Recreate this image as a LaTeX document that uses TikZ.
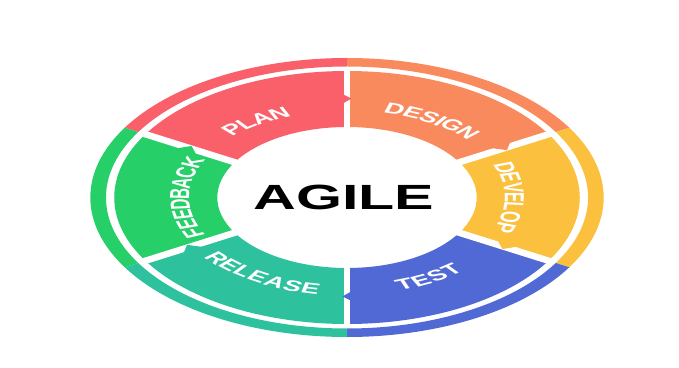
\documentclass[tikz,border=0pt]{standalone}
\usepackage{fontspec}
\setmainfont{Liberation Sans}
\definecolor{planc}{HTML}{F9606A}
\definecolor{designc}{HTML}{F98A5E}
\definecolor{developc}{HTML}{FBC03E}
\definecolor{testc}{HTML}{5169D5}
\definecolor{releasec}{HTML}{2EC19D}
\definecolor{feedbackc}{HTML}{26CF68}
\newcommand\lblfont{\bfseries\fontsize{15}{15}\selectfont}
\newcommand\lblsize{15}
% Sets a word letter by letter along a circle of the (unscaled) wheel frame.
% #1 centre angle, #2 radius, #3 1 = reads clockwise, -1 = reads anticlockwise,
% #4 comma separated letter/advance pairs (advance in em), #5 node name prefix
\newcommand\arcword[5]{%
  \gdef\arctotal{0}%
  \foreach \ch/\w in {#4}{%
    \pgfmathsetmacro\tmpw{\arctotal+\w*\lblsize}\xdef\arctotal{\tmpw}}%
  \gdef\arccum{0}%
  \foreach \ch/\w [count=\i] in {#4}{%
    \pgfmathsetmacro\ang{#1+#3*(\arctotal/2-\arccum-\w*\lblsize/2)/(#2)*57.29578}%
    \pgfmathsetmacro\rot{\ang-#3*90}%
    \node[lbl, rotate=\rot] (#5-\i) at (\ang:#2) {\ch};
    \pgfmathsetmacro\tmpw{\arccum+\w*\lblsize}\xdef\arccum{\tmpw}}%
}
\begin{document}
\begin{tikzpicture}[x=1pt,y=1pt,
  lbl/.style={font=\lblfont, text=white, inner sep=0pt, transform shape},
  gap/.style={white, line width=6.5pt}]
\useasboundingbox (0,0) rectangle (679,367);
\fill[white] (0,0) rectangle (679,367);
\begin{scope}[shift={(347,169.5)}, xscale=1.84]
  % thin outer ring
  \foreach \a/\b/\c in {90/150/planc, 30/90/designc, -30/30/developc,
                        -90/-30/testc, -150/-90/releasec, 150/210/feedbackc}{
    \fill[\c] (\a:139.5) arc[start angle=\a, end angle=\b, radius=139.5]
      -- (\b:131) arc[start angle=\b, end angle=\a, radius=131] -- cycle;
  }
  % the six phase segments
  \foreach \a/\b/\c in {90/150/planc, 30/90/designc, -30/30/developc,
                        -90/-30/testc, -150/-90/releasec, 150/210/feedbackc}{
    \fill[\c] (\a:126.5) arc[start angle=\a, end angle=\b, radius=126.5]
      -- (\b:70.5) arc[start angle=\b, end angle=\a, radius=70.5] -- cycle;
  }
  % white separators
  \foreach \a in {90,30,-30,-90,-150,150}
    \draw[gap] (\a:68) -- (\a:128.5);
  % small pointers carrying each phase into the next (clockwise)
  \foreach \b/\c in {90/planc, 30/designc, -30/developc,
                     -90/testc, -150/releasec, 150/feedbackc}
    \fill[\c] (\b+3:91.5) -- (\b-1.4:99) -- (\b+3:106.5) -- cycle;
  % phase names
  \arcword{123}{92}{1}{P/.667,L/.611,A/.722,N/.722}{plan}
  \arcword{59}{92}{1}{D/.722,E/.667,S/.667,I/.278,G/.778,N/.722}{design}
  \arcword{0}{91}{1}{D/.722,E/.667,V/.667,E/.667,L/.611,O/.778,P/.667}{develop}
  \arcword{-61}{92}{-1}{T/.611,E/.667,S/.667,T/.611}{test}
  \arcword{-121}{93}{-1}{R/.722,E/.667,L/.611,E/.667,A/.722,S/.667,E/.667}{release}
  \arcword{180}{91}{1}{F/.611,E/.667,E/.667,D/.722,B/.722,A/.722,C/.722,K/.722}{feedback}
\end{scope}
\node[font=\bfseries\fontsize{35}{35}\selectfont, inner sep=0pt, xscale=1.69]
  (agile) at (344,169.5) {AGILE};
\end{tikzpicture}
\end{document}
